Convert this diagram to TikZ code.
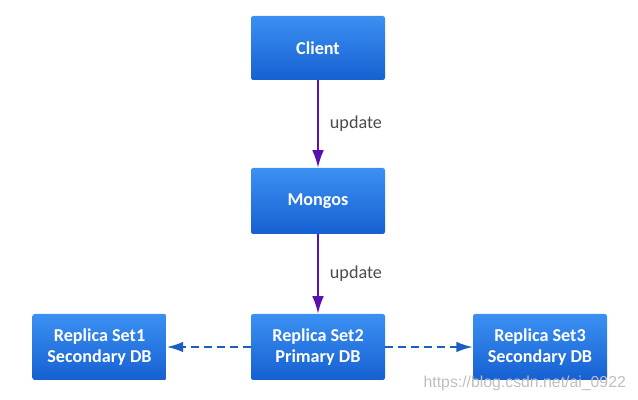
\documentclass[tikz,border=0pt]{standalone}
\usepackage{fontspec}
\setmainfont{Carlito}
\newfontfamily\urlfont{Liberation Sans}
\usetikzlibrary{arrows.meta,positioning}
\definecolor{boxtop}{HTML}{3B90F2}
\definecolor{boxbot}{HTML}{1660D2}
\definecolor{upcol}{HTML}{5A0FAF}
\definecolor{synccol}{HTML}{1A5EC2}
\tikzset{
    dbbox/.style={rounded corners=2pt,top color=boxtop,bottom color=boxbot,draw=none,
        minimum width=134*0.03cm,minimum height=66*0.03cm,text=white,
        font=\fontsize{15.5}{18.5}\selectfont\bfseries,align=center,inner sep=0pt},
    upline/.style={draw=upcol,line width=1.7pt,-{Latex[length=15pt,width=10pt]}},
    syncline/.style={draw=synccol,line width=1.7pt,dash pattern=on 7pt off 4pt,-{Latex[length=14pt,width=9pt]}},
    uplabel/.style={text=black!70,font=\fontsize{15.5}{17}\selectfont}
}
\begin{document}
\begin{tikzpicture}[x=0.03cm,y=-0.03cm]
    \useasboundingbox[fill=white](0,0) rectangle (638,400);
    \node[dbbox,minimum height=64*0.03cm](client) at (318,48){Client};
    \node[dbbox](mongos) at (318,201){Mongos};
    \node[dbbox](rs2) at (318,347){Replica Set2\\Primary DB};
    \node[dbbox](rs1) at (99.5,347){Replica Set1\\Secondary DB};
    \node[dbbox](rs3) at (540,347){Replica Set3\\Secondary DB};
    % update path
    \draw[upline](client)--(mongos)node[midway,right=6pt,uplabel]{update};
    \draw[upline](mongos)--(rs2)node[midway,right=6pt,uplabel]{update};
    % replication
    \draw[syncline](rs2)--(rs1);
    \draw[syncline](rs2)--(rs3);
    \node[text=black!25,font=\urlfont\fontsize{13.5}{15}\selectfont,anchor=east](url) at (630,383){https://blog.csdn.net/ai\_0922};
\end{tikzpicture}
\end{document}
